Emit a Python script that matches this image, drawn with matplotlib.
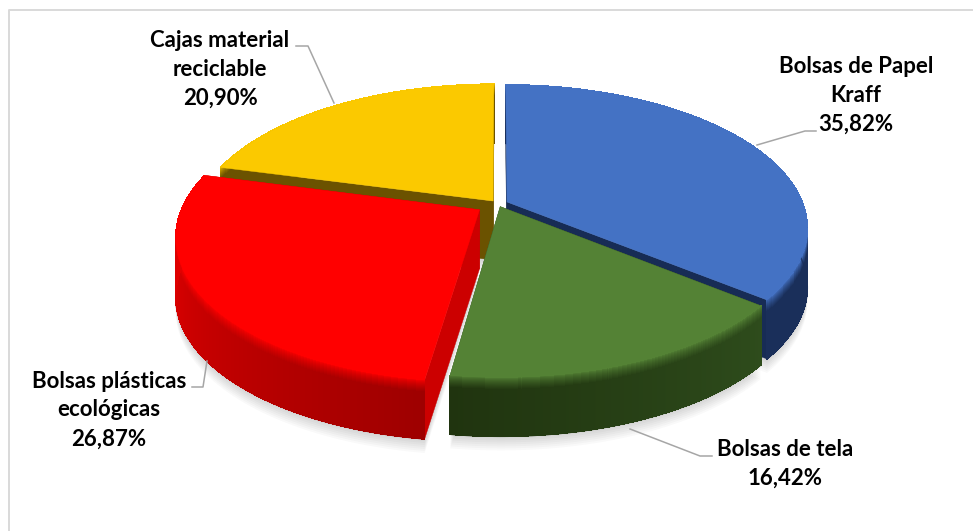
import numpy as np
import matplotlib
matplotlib.use('Agg')
import matplotlib.pyplot as plt
from matplotlib.collections import PolyCollection, LineCollection
from matplotlib.colors import to_rgb

plt.rcParams['font.family'] = ['Lato', 'DejaVu Sans']

# Данные (в порядке по часовой стрелке от верха)
labels = ['Bolsas de Papel\nKraff', 'Bolsas de tela', 'Bolsas plásticas\necológicas', 'Cajas material\nreciclable']
values = [35.82, 16.42, 26.87, 20.90]
value_texts = ['35,82%', '16,42%', '26,87%', '20,90%']

# Цвета
top_colors = ['#4472C4', '#548235', '#FF0000', '#FBC900']
side_from = ['#1A2F5A', '#2E4C1C', '#F00000', '#6B5200']
side_to = ['#1A2F5A', '#20340F', '#9E0000', '#6B5200']
wall_colors = ['#172C55', '#2A4418', '#CC0000', '#6B5200']
explode = [10, 6, 22, 8]
draw_order = [3, 0, 2, 1]

# Геометрия псевдо-3D
CX, CY = 498, 204
RX, RY = 296, 139
PERSP = 0.18
DEPTH = 59
BEVEL = 12

label_pos = [(856, 95), (785, 464), (109, 410), (220, 69)]
leaders = [
    [(757, 145), (805, 131), (816, 131)],
    [(630, 429), (700, 456), (712, 456)],
    [(207, 361), (203, 387), (192, 387)],
    [(334, 103), (308, 46), (296, 46)],
]


def project(u, v, z=0.0):
    f = 1 / (1 + PERSP * v)
    return CX + RX * u * f, CY - RY * v * f + z


def slice_angles():
    edges = np.concatenate([[0], np.cumsum(values)]) / np.sum(values) * 2 * np.pi
    return edges[:-1], edges[1:]


def mix(c1, c2, t):
    a, b = np.array(to_rgb(c1)), np.array(to_rgb(c2))
    return tuple(a + (b - a) * t)


def rim(i, th, z=0.0):
    mid = (starts[i] + ends[i]) / 2
    off = explode[i] / RX
    u = off * np.sin(mid) + np.sin(th)
    v = off * np.cos(mid) + np.cos(th)
    return project(u, v, z)


def tip(i, z=0.0):
    mid = (starts[i] + ends[i]) / 2
    off = explode[i] / RX
    return project(off * np.sin(mid), off * np.cos(mid), z)


def top_outline(i, z=0.0):
    th = np.linspace(starts[i], ends[i], 150)
    xs, ys = rim(i, th, z)
    tx, ty = tip(i, z)
    return np.column_stack([np.r_[tx, xs], np.r_[ty, ys]])


starts, ends = slice_angles()

fig = plt.figure(figsize=(9.73, 5.31), dpi=100)
ax = fig.add_axes([0, 0, 1, 1])
ax.set_xlim(0, 973)
ax.set_ylim(531, 0)
ax.axis('off')

# Рамка
ax.plot([9, 9, 973], [531, 10, 10], color='#D9D9D9', lw=1.4, zorder=0)

# Мягкая тень на плоскости
for k in range(0, 16, 2):
    for i in range(4):
        pts = top_outline(i, DEPTH + k)
        ax.fill(pts[:, 0], pts[:, 1], color='black', alpha=0.022, lw=0, zorder=1)

z = 2
for i in draw_order:
    # Радиальные стенки
    for th in (starts[i], ends[i]):
        x0, y0 = tip(i)
        x1, y1 = rim(i, th)
        ax.fill([x0, x1, x1, x0], [y0, y1, y1 + DEPTH, y0 + DEPTH],
                color=wall_colors[i], lw=0.3, zorder=z)
    z += 1

    # Боковая поверхность с градиентом
    th = np.linspace(starts[i], ends[i], 301)
    polys, cols, bottom, bottom_cols = [], [], [], []
    levels = np.r_[np.arange(0, BEVEL + 1), DEPTH]
    for a, b in zip(th[:-1], th[1:]):
        t = (a - starts[i]) / (ends[i] - starts[i])
        if i == 2:
            t = 1 - t
        base = mix(side_from[i], side_to[i], t)
        for z0, z1 in zip(levels[:-1], levels[1:]):
            xa, ya = rim(i, a, z0)
            xb, yb = rim(i, b, z0)
            polys.append([(xa, ya), (xb, yb), (xb, yb + z1 - z0), (xa, ya + z1 - z0)])
            cols.append(mix(top_colors[i], base, min(z0 / BEVEL, 1) ** 0.7))
        xa, ya = rim(i, a, DEPTH)
        xb, yb = rim(i, b, DEPTH)
        bottom.append([(xa, ya), (xb, yb)])
        bottom_cols.append(base)
    ax.add_collection(PolyCollection(polys, facecolors=cols, edgecolors=cols,
                                     linewidths=0.3, antialiased=False, zorder=z))
    # сглаживаем нижний край
    ax.add_collection(LineCollection(bottom, colors=bottom_cols, linewidths=0.9, zorder=z))
    z += 1

    # Верхняя грань
    pts = top_outline(i)
    ax.fill(pts[:, 0], pts[:, 1], color=top_colors[i], lw=0.3, zorder=z)
    z += 1

# Подписи и выноски
for i in range(4):
    xs, ys = zip(*leaders[i])
    ax.plot(xs, ys, color='#A6A6A6', lw=1.1, zorder=z)
    ax.text(label_pos[i][0], label_pos[i][1], labels[i] + '\n' + value_texts[i],
            ha='center', va='center', ma='center', fontsize=16, fontweight='bold',
            linespacing=1.47, color='black', zorder=z + 1)

fig.savefig('out.png', dpi=100)
